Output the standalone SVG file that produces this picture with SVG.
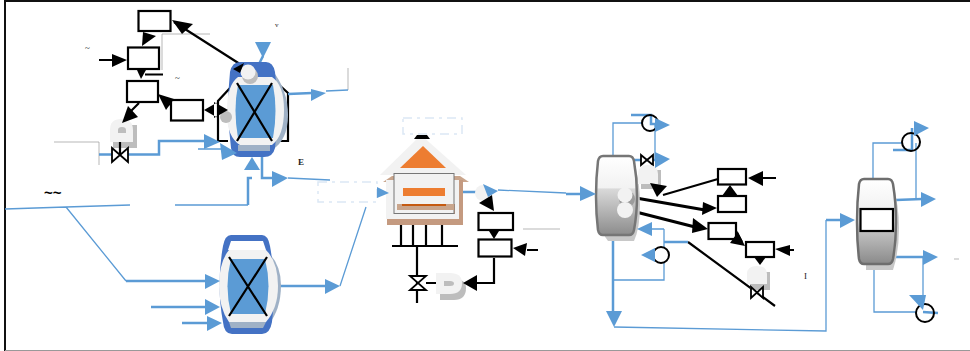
<svg xmlns="http://www.w3.org/2000/svg" width="970" height="351" viewBox="0 0 970 351">
<style>
.box{fill:#fff;stroke:#000;stroke-width:2.200}
.k{fill:none;stroke:#000;stroke-width:2.200}
.kf{fill:#000}
.b{fill:none;stroke:#5b9bd5;stroke-width:2.500}
.t{fill:none;stroke:#5b9bd5;stroke-width:1.300}
.bf{fill:#5b9bd5}
.g{fill:none;stroke:#999;stroke-width:.7}
.dash{fill:#fff;stroke:#dbe8f5;stroke-width:1.500;stroke-dasharray:9 5 3 5}
.lt{fill:#f2f2f2}
.sh{fill:#bdbdbd}
.cir{fill:#fff;stroke:#000;stroke-width:2}
.vl{fill:#fff;stroke:#000;stroke-width:1.800}
.col{fill:url(#cg);stroke:#767676;stroke-width:2.500}
.lb{font-family:"Liberation Serif",serif;font-size:9px;fill:#222}
</style>
<defs>
<linearGradient id="cg" x1="0" y1="0" x2="0" y2="1">
<stop offset="0" stop-color="#fff"/><stop offset=".4" stop-color="#f2f2f2"/><stop offset=".42" stop-color="#d9d9d9"/><stop offset="1" stop-color="#8c8c8c"/>
</linearGradient>
<linearGradient id="cg2" x1="0" y1="0" x2="0" y2="1">
<stop offset="0" stop-color="#fff"/><stop offset=".45" stop-color="#eee"/><stop offset=".6" stop-color="#c4c4c4"/><stop offset="1" stop-color="#8a8a8a"/>
</linearGradient>
</defs>
<rect width="970" height="351" fill="#fff"/>
<g id="frame">
<path d="M5 351V1H970" fill="none" stroke="#111" stroke-width="2"/>
<path d="M5 350.500H970" fill="none" stroke="#999" stroke-width="1"/>
</g>
<g id="connectors">
<path class="g" d="M54 142H99V165M162 70V34H210"/>
<path class="g" d="M348 68V90M523 229H560"/>
<path class="k" d="M99 60H114M145 74.500H163M174 22L243 66M139 103L126 116M172 105L166 103"/>
<path class="k" d="M230 88L218 101V141H228M277 83L288 93V141H276"/>
<path class="b" d="M99 154.500H159V141H205"/>
<path class="t" d="M198 149H222M326 91L348 90"/>
<path class="b" d="M288 94L312 93M279 286H326"/>
<path class="b" d="M263 56L258 66"/>
<path class="t" d="M5 209L66 207L130 205M175 205H248M66 207L126 281M340 286L366 207"/>
<path class="b" d="M126 281H206M151 307H206M182 323H208M248 205V178H252M262 157V178H274"/>
<path class="t" d="M288 178L330 180"/>
<path class="b" d="M458 192H476"/>
<path class="t" d="M498 190L566 193"/>
<path class="b" d="M566 194H582"/>
<path class="k" d="M392 246H458M401 215V246M413 215V246M426 215V246M442 215V246M417 246V303M426 283H436M477 283H494V258M527 250H538"/>
<path class="t" d="M613 156V123H643"/>
<path class="b" d="M631 115H651V124H657M633 160H657"/>
<path class="t" d="M655 123V160"/>
<path class="k" d="M663 195L718 179M763 178H776M790 250H794M688 242L775 306M736 231L742 242"/>
<path class="k" style="stroke-width:3" d="M636 198L705 210M636 212L695 227"/>
<path class="t" d="M664 229V280H613M652 229H664"/>
<path class="b" d="M664 242H688M613 235V312"/>
<path class="t" d="M614 327L826 331V220"/>
<path class="b" d="M826 220H842"/>
<path class="t" d="M873 179V143H903M916 143V199M874 264V312H917"/>
<path class="b" d="M893 150H912V128M896 200L922 199M894 257H924M923 312L938 313"/>
<path class="t" d="M923 257V300"/>
<path class="g" d="M954 259H959"/>
</g>
<g id="reactor-top">
<path d="M240 67Q248 62 272 70Q288 90 288 115Q288 140 272 150H240Z" fill="#9fb1c6"/>
<path d="M240 62H266Q273 62 275 72Q280 110 275 148Q273 157 264 157H240Q232 157 231 148Q226 110 230 72Q232 62 240 62Z" fill="#4472c4"/>
<path d="M238 77H272Q284 85 284 110Q284 136 272 145H240Q226 136 227 110Q227 85 238 77Z" class="lt"/>
<path d="M238 85H273Q278 110 273 138H238Q233 110 238 85Z" class="bf"/>
<rect x="238" y="145" width="32" height="6" fill="#9fb1c6"/>
<circle cx="250" cy="76" r="8" class="sh"/>
<circle cx="248" cy="72" r="7.500" class="lt"/>
<circle cx="226" cy="117" r="6" class="sh"/>
<path d="M237 83L272 141M272 83L237 141" class="k"/>
</g>
<g id="reactor-bottom">
<path d="M235 252H268Q281 265 281 285Q281 310 268 325H240Z" fill="#9fb1c6"/>
<path d="M231 235H262Q268 235 270 246Q277 285 272 322Q270 334 262 334H232Q224 334 223 322Q216 285 223 246Q225 235 231 235Z" fill="#4472c4"/>
<path d="M231 241H263L266 250H228Z" fill="#fff"/>
<path d="M229 322H266L263 328H231Z" fill="#9fb1c6"/>
<path d="M229 250H266Q278 262 278 286Q278 308 266 322H229Q219 308 219 286Q219 262 229 250Z" class="lt"/>
<path d="M231 259H265Q272 286 265 314H231Q224 286 231 259Z" class="bf"/>
<path d="M229 257L267 316M267 257L229 316" class="k"/>
</g>
<g id="box-a"><rect class="box" x="138.500" y="11" width="32" height="20"/></g>
<g id="box-b"><rect class="box" x="128" y="47.500" width="31" height="21.500"/></g>
<g id="box-c"><rect class="box" x="127" y="81" width="31" height="21"/></g>
<g id="box-d"><rect class="box" x="171" y="100" width="32" height="20.500"/></g>
<g id="tank-1">
<rect x="113" y="125" width="24" height="23" class="sh"/>
<path d="M110 142V130Q110 119 121 119Q133 119 133 130V142Z" class="lt"/>
<path d="M118 133V130Q118 127 122 127Q126 127 126 130V133Z" class="sh"/>
<path d="M120 142V155" class="k"/>
<path class="vl" d="M112 148L128 162V148L112 162Z"/>
</g>
<g id="furnace">
<path d="M380 175L421 135L466 175Z" class="lt"/>
<path d="M383 182L392 176H460L469 182Z" fill="#c9a58c"/>
<rect x="387" y="180" width="76" height="45" fill="#c49a80"/>
<rect x="386" y="180" width="73" height="39" class="lt"/>
<rect x="397" y="204" width="58" height="10" fill="#c49a80"/>
<path d="M400 168L423 146L446 168Z" fill="#ed7d31"/>
<path d="M414 139L417 135H427L430 139Z" class="kf"/>
<rect x="394" y="173.500" width="60" height="40" fill="#f2f2f2" stroke="#777"/>
<rect x="397" y="204" width="57" height="6" fill="#c9a58c"/>
<rect x="402" y="204" width="44" height="2" fill="#c55a11"/>
<rect x="403" y="188" width="42" height="8" fill="#ed7d31"/>
</g>
<g id="label-box-1"><rect class="dash" x="403" y="118" width="59" height="16"/></g>
<g id="label-box-2"><rect class="dash" x="318" y="182" width="59" height="20"/></g>
<g id="drum-furnace">
<path d="M440 279H454Q466 279 466 288Q466 300 454 300H440Z" class="sh"/>
<path d="M436 273H450Q462 273 462 283Q462 294 450 294H436Z" class="lt"/>
<path d="M444 281H450Q454 281 454 283.500Q454 286 450 286H444Z" class="sh"/>
<path class="vl" d="M410 276H426L410 290H426Z"/>
</g>
<g id="box-e"><rect class="box" x="478.500" y="213" width="34.500" height="17"/></g>
<g id="box-f"><rect class="box" x="478.500" y="239.500" width="33" height="17"/></g>
<g id="pump-1"><circle cx="483" cy="193" r="8" class="lt"/></g>
<g id="column-1">
<path d="M606 162H634Q640 180 640 205Q640 228 634 241H608Q602 235 602 220Z" fill="#c8c8c8"/>
<path class="col" d="M603 156H629Q633 156 634 161Q637 178 637 196Q637 214 634 230Q633 235 629 235H603Q599 235 598 230Q596 214 596 196Q596 178 598 161Q599 156 603 156Z"/>
<circle cx="627" cy="199" r="8" fill="#9c9c9c"/>
<circle cx="625" cy="195" r="7.500" class="lt"/>
<circle cx="625" cy="210" r="8" class="lt"/>
</g>
<g id="condenser-1"><circle cx="650" cy="123" r="8" class="cir" fill-opacity="0"/></g>
<g id="valve-top"><path class="vl" d="M641 155L653 165V155L641 165Z"/></g>
<g id="tank-2">
<rect x="641" y="170" width="20" height="19" class="sh"/>
<path d="M638 184V174Q638 165 648 165Q658 165 658 174V184Z" class="lt"/>
</g>
<g id="box-g"><rect class="box" x="718" y="169" width="28" height="15.500"/></g>
<g id="box-h"><rect class="box" x="718" y="196" width="28" height="16"/></g>
<g id="box-i"><rect class="box" x="708.500" y="223" width="27.500" height="16"/></g>
<g id="box-j"><rect class="box" x="746" y="242" width="28" height="15"/></g>
<g id="tank-3">
<rect x="750" y="272" width="20" height="18" class="sh"/>
<path d="M747 284V274Q747 266 757 266Q767 266 767 274V284Z" class="lt"/>
<path class="vl" d="M751 287L763 298V287L751 298Z"/>
</g>
<g id="pump-2"><circle cx="661" cy="255" r="8" class="cir"/></g>
<g id="column-2">
<path d="M866 185H893Q899 205 899 228Q899 252 893 270H866Z" fill="#c8c8c8"/>
<path d="M864 179H888Q892 179 893 184Q896 202 896 222Q896 242 893 259Q892 264 888 264H864Q860 264 859 259Q857 242 857 222Q857 202 859 184Q860 179 864 179Z" fill="url(#cg2)" stroke="#6e6e6e" stroke-width="2.500"/>
<rect x="860.500" y="209" width="32.500" height="22" class="box"/>
</g>
<g id="condenser-2"><circle cx="911" cy="142" r="9" fill="none" stroke="#000" stroke-width="2"/></g>
<g id="condenser-3"><circle cx="925" cy="313" r="9" fill="none" stroke="#000" stroke-width="2"/></g>
<g id="arrowheads">
<g class="kf">
<path d="M142 46L156 36L143 32Z"/>
<path d="M112 54V67L127 60Z"/>
<path d="M137 70H146L141 79Z"/>
<path d="M158 94L174 99L166 110Z"/>
<path d="M122 123L138 117L128 106Z"/>
<path d="M204 110L218 102V118ZM228 110L214 102V118Z"/>
<path d="M172 20L193 24L182 34Z"/>
<path d="M244 63L233 69L240 73Z"/>
<path d="M463 283L477 275V291Z"/>
<path d="M489 231H499L494 239Z"/>
<path d="M513 248L527 243L525 256Z"/>
<path d="M479 203L494 211L492 195Z"/>
<path d="M650 183L667 186L657 197Z"/>
<path d="M748 178L763 171V186Z"/>
<path d="M730 185L722 196H738Z"/>
<path d="M717 208L703 202L702 215Z"/>
<path d="M708 229L693 218L692 233Z"/>
<path d="M745 246L730 243L738 232Z"/>
<path d="M775 249L790 245V256Z"/>
<path d="M754 257H766L760 265Z"/>
</g>
<g class="bf">
<path d="M255 42H271L263 58Z"/>
<path d="M311 89V101L326 93Z"/>
<path d="M204 134V149L220 142Z"/>
<path d="M220 143L237 153L222 160Z"/>
<path d="M244 170H260L252 157Z"/>
<path d="M272 171V187L288 178Z"/>
<path d="M205 274V289L220 281Z"/>
<path d="M205 299V315L220 307Z"/>
<path d="M207 316V331L222 323Z"/>
<path d="M325 279V294L340 286Z"/>
<path d="M377 187V198L389 193Z"/>
<path d="M483 184L498 191L488 197Z"/>
<path d="M580 186V201L596 194Z"/>
<path d="M655 118V132L670 125Z"/>
<path d="M655 152V168L670 159Z"/>
<path d="M637 229L652 222V236Z"/>
<path d="M641 255L655 248V262Z"/>
<path d="M606 311H622L614 327Z"/>
<path d="M840 213V228L855 220Z"/>
<path d="M914 121V136L929 128Z"/>
<path d="M921 192V207L936 199Z"/>
<path d="M923 250V265L938 257Z"/>
<path d="M909 295H926L923 310Z"/>
</g>
</g>
<g id="labels">
<text class="lb" x="275" y="27" style="font-size:7px">v</text>
<text class="lb" x="85" y="51">~</text>
<text class="lb" x="175" y="81">~</text>
<text x="44" y="198" style="font-family:'Liberation Sans',sans-serif;font-size:15px;font-weight:bold;fill:#000">~~</text>
<text class="lb" x="298" y="165" style="font-weight:bold">E</text>
<text class="lb" x="804" y="279">I</text>
</g>
</svg>
